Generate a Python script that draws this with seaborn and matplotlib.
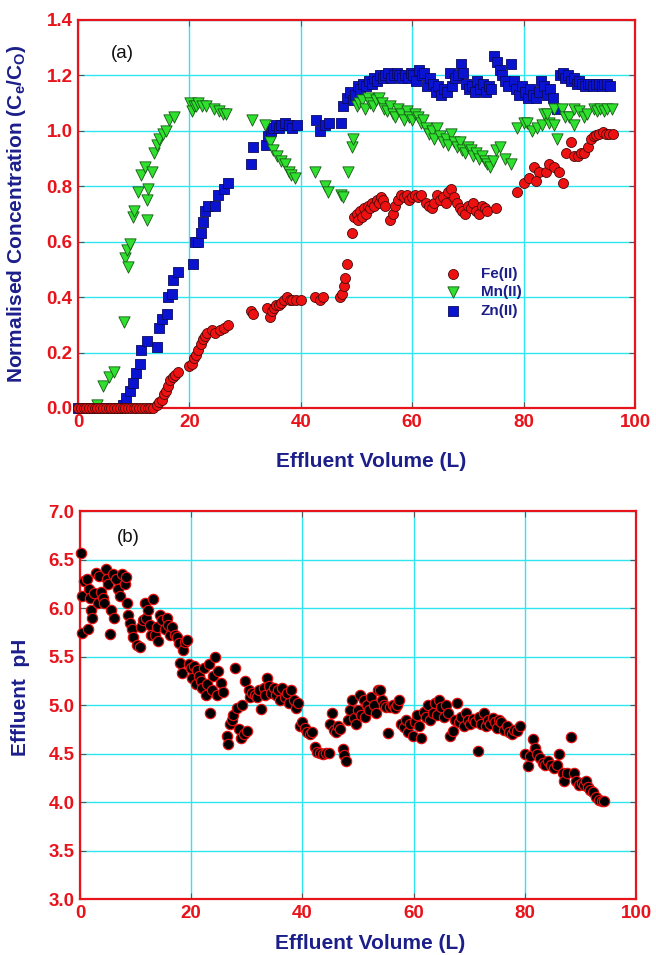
import numpy as np
import pandas as pd
import matplotlib
matplotlib.use("Agg")
import matplotlib.pyplot as plt
import seaborn as sns

# ---------------- data: panel (a) ----------------
fe_x = [0, 0.5, 1, 1.5, 2, 2.5, 3, 3.5, 4, 4.5, 5, 5.5, 6, 6.5, 7, 7.5, 8, 8.5, 9, 9.5, 10, 10.5, 11, 11.5, 12, 12.5, 13, 13.5,
        14.2, 14.6, 15, 15.4, 15.8, 16.2, 16.6, 17, 17.4, 18,
        20, 20.4, 20.8, 21.2, 21.6, 22, 22.4, 22.8, 23.2, 24, 24.6, 25.5, 26.2, 27,
        31, 31.5, 34, 34.4, 34.8, 35.2, 35.6, 36, 36.5, 37, 37.5, 38, 38.5, 39.2, 40,
        42.5, 43.5, 44, 47, 47.4, 47.8, 48, 48.3, 49.2, 49.5,
        50, 50.3, 50.7, 51, 51.3, 51.7, 52, 52.4, 52.8, 53.2, 53.6, 54, 54.4, 54.8, 55.2,
        56, 56.5, 57, 57.5, 58, 58.5, 59, 59.5, 60, 60.5, 61, 61.5,
        62.5, 63, 63.5, 64, 64.5, 65, 65.5, 66, 66.5, 67, 67.5,
        68, 68.5, 69, 69.5, 70, 70.5, 71, 71.5, 72, 72.5, 73, 73.5, 75,
        78.9, 80, 81, 81.9, 82.8, 82.2, 84, 84.6, 85.5, 86.4, 87,
        87.6, 88.5, 89.1, 89.7, 90.3, 90.9, 91.5, 92.1, 92.6, 93, 93.6, 94.2, 94.8, 95.4, 96]
fe_y = [0] * 28 + \
       [0.01, 0.02, 0.03, 0.05, 0.06, 0.08, 0.10, 0.11, 0.12, 0.13,
        0.15, 0.16, 0.18, 0.19, 0.21, 0.23, 0.25, 0.26, 0.27, 0.28, 0.27, 0.28, 0.29, 0.30,
        0.35, 0.34, 0.36, 0.33, 0.35, 0.36, 0.37, 0.37, 0.38, 0.39, 0.40, 0.39, 0.39, 0.39, 0.39,
        0.40, 0.39, 0.40, 0.40, 0.41, 0.44, 0.47, 0.52, 0.63, 0.69,
        0.70, 0.68, 0.71, 0.69, 0.72, 0.70, 0.73, 0.72, 0.74, 0.73, 0.75, 0.74, 0.76, 0.75, 0.73,
        0.68, 0.70, 0.73, 0.75, 0.77, 0.76, 0.77, 0.75, 0.76, 0.77, 0.76, 0.77,
        0.74, 0.73, 0.72, 0.74, 0.77, 0.75, 0.76, 0.74, 0.78, 0.79, 0.76,
        0.74, 0.72, 0.71, 0.70, 0.73, 0.72, 0.74, 0.71, 0.70, 0.73, 0.72, 0.71, 0.72,
        0.78, 0.81, 0.83, 0.87, 0.85, 0.82, 0.85, 0.88, 0.87, 0.85, 0.81,
        0.92, 0.96, 0.91, 0.91, 0.92, 0.92, 0.94, 0.97, 0.98, 0.985, 0.99, 0.995, 0.99, 0.99, 0.99]

mn_x = [3.5, 4.5, 5.5, 6.5, 8.2, 8.5, 8.8, 9.0, 9.3, 9.8, 10.1, 10.8, 11.4, 12.0, 12.3, 12.6, 12.4, 13.2, 13.6,
        14.1, 14.6, 15.2, 15.8, 16.4, 17.2,
        20.1, 20.4, 20.8, 21.2, 21.6, 22.2, 23.0, 24.5, 25.3, 26.0, 26.6,
        31.2, 33.5, 34.5, 35.0, 35.8, 36.5, 37.2, 37.8, 38.3, 39.0,
        42.5, 44.3, 44.9, 47.2, 47.5, 48.5, 49.2, 49.4,
        50.0, 50.5, 51.0, 51.5, 52.0, 52.5, 53.0, 53.5, 54.0, 54.5, 55.0, 55.5, 56.0, 56.5, 57.0, 57.5,
        58.0, 58.5, 59.0, 59.5, 60.0, 60.5, 61.0, 61.5, 62.0, 62.5, 63.0, 63.5, 64.0, 64.5, 65.0, 65.5,
        66.0, 66.5, 67.0, 67.5, 68.0, 68.5, 69.0, 69.5, 70.0, 70.5, 71.0, 71.5, 72.0, 72.5, 73.0, 73.5,
        74.0, 74.5, 75.0, 75.7, 76.6, 77.8,
        78.8, 80.0, 80.6, 81.5, 82.4, 83.3, 84.5, 85.4, 86.0,
        83.6, 84.2, 85.4, 86.9, 87.5, 88.1, 89.0, 89.0, 89.9, 90.8, 91.4, 92.6, 93.2, 93.8, 94.4, 95.0, 95.9]
mn_y = [0.01, 0.08, 0.11, 0.13, 0.31, 0.54, 0.57, 0.51, 0.59, 0.69, 0.71, 0.78, 0.84, 0.87, 0.75, 0.79, 0.68, 0.85, 0.92,
        0.95, 0.97, 0.99, 1.00, 1.04, 1.05,
        1.10, 1.07, 1.09, 1.09, 1.10, 1.09, 1.09, 1.08, 1.07, 1.06, 1.06,
        1.04, 1.02, 0.96, 0.93, 0.91, 0.89, 0.88, 0.85, 0.84, 0.83,
        0.85, 0.80, 0.78, 0.77, 0.76, 0.85, 0.94, 0.97,
        1.09, 1.10, 1.11, 1.08, 1.12, 1.10, 1.09, 1.11, 1.12, 1.10, 1.08, 1.07, 1.09, 1.06, 1.05, 1.08,
        1.06, 1.04, 1.07, 1.05, 1.04, 1.06, 1.05, 1.03, 1.04, 1.01, 0.99, 1.00, 0.97, 1.01, 0.98, 0.96,
        0.97, 0.95, 0.99, 0.96, 0.94, 0.96, 0.93, 0.92, 0.94, 0.93, 0.91, 0.92, 0.90, 0.91, 0.89, 0.88,
        0.87, 0.89, 0.93, 0.94, 0.90, 0.88,
        1.01, 1.03, 1.03, 1.00, 1.01, 1.02, 1.03, 1.02, 0.97,
        1.06, 1.06, 1.08, 1.08, 1.05, 1.05, 1.08, 1.02, 1.07, 1.05, 1.06, 1.08, 1.07, 1.08, 1.07, 1.08, 1.08]

zn_x = [0, 0.5, 1, 1.5, 2, 2.5, 3, 3.5, 4, 4.5, 5, 5.5, 6, 6.5, 7, 7.5,
        8.0, 8.7, 9.3, 9.9, 10.5, 11.1, 11.4, 12.3, 14.1, 14.6, 15.0, 15.9, 16.2, 16.8, 17.1, 18.0,
        20.6, 21.0, 21.6, 22.0, 22.4, 22.8, 23.4, 24.6, 25.2, 26.2, 27.0,
        31.0, 31.5, 33.8, 34.2, 34.6, 35.0, 35.5, 36.0, 36.5, 37.2, 37.8, 38.5, 39.3,
        42.7, 43.5, 44.3, 45.0,
        47.3, 47.6, 48.3, 48.8, 49.3, 49.8, 50.2, 50.7, 51.2, 51.7, 52.2, 52.7, 53.2, 53.7, 54.2, 54.7,
        55.2, 55.7, 56.2, 56.7, 57.2, 57.7, 58.2, 58.7, 59.2, 59.7, 60.2, 60.7, 61.2, 61.7, 62.2, 62.7,
        63.2, 63.7, 64.2, 64.7, 65.2, 65.7, 66.2, 66.7, 67.2, 67.7, 68.2, 68.7, 69.2, 69.7, 70.2, 70.7,
        71.2, 71.7, 72.2, 72.7, 73.2, 73.7, 74.2, 74.7, 75.2, 75.7, 76.2, 76.7, 77.2, 77.7, 78.2, 78.7,
        79.2, 79.7, 80.2, 80.7, 81.2, 81.7, 82.2, 82.7, 83.2, 83.6, 84.2, 84.7, 85.2, 86.0, 86.5, 87.0,
        87.5, 88.0, 88.5, 89.0, 89.5, 90.0, 90.5, 91.0, 91.5, 92.0, 92.5, 93.0, 93.5, 94.0, 94.5, 95.0, 95.5]
zn_y = [0] * 16 + \
       [0.01, 0.035, 0.06, 0.09, 0.126, 0.16, 0.21, 0.24, 0.22, 0.29, 0.32, 0.34, 0.40, 0.41, 0.46, 0.49,
        0.52, 0.60, 0.60, 0.63, 0.67, 0.71, 0.73, 0.73, 0.77, 0.79, 0.81,
        0.88, 0.94, 0.95, 0.98, 1.00, 1.01, 1.02, 1.01, 1.02, 1.03, 1.02, 1.01, 1.02,
        1.04, 1.00, 1.02, 1.03,
        1.03, 1.09, 1.12, 1.14, 1.11, 1.13, 1.16, 1.15, 1.17, 1.16, 1.18, 1.17, 1.19, 1.18, 1.20, 1.19,
        1.20, 1.21, 1.19, 1.20, 1.21, 1.20, 1.19, 1.20, 1.19, 1.21, 1.20, 1.18, 1.22, 1.20, 1.21, 1.16,
        1.19, 1.17, 1.14, 1.16, 1.13, 1.15, 1.14, 1.21, 1.16, 1.19, 1.20, 1.24, 1.21, 1.17, 1.15, 1.16,
        1.14, 1.18, 1.15, 1.17, 1.14, 1.16, 1.15, 1.27, 1.25, 1.22, 1.20, 1.18, 1.16, 1.24, 1.18, 1.15,
        1.13, 1.16, 1.14, 1.12, 1.15, 1.13, 1.12, 1.14, 1.18, 1.16, 1.13, 1.15, 1.12, 1.08, 1.20, 1.21,
        1.19, 1.20, 1.18, 1.19, 1.17, 1.18, 1.17, 1.16, 1.17, 1.17, 1.16, 1.17, 1.17, 1.16, 1.17, 1.17, 1.16]

# ---------------- data: panel (b) ----------------
ph_x = [0.2, 0.3, 0.4, 0.8, 1.2, 1.5, 1.6, 1.8, 2.0, 2.2, 2.5, 2.9, 3.2, 3.5, 3.8, 4.1, 4.4, 4.6, 4.8, 5.0,
        5.4, 5.6, 6.0, 6.1, 6.4, 6.8, 7.2, 7.6, 8.0, 8.3, 8.4, 8.7, 9.0, 9.3, 9.6, 10.2, 10.8, 11.0, 11.3, 11.6,
        11.9, 12.2, 12.5, 12.8, 13.1, 13.5, 13.9, 14.1, 14.4, 14.8, 15.2, 15.6, 15.9, 16.2, 16.6, 17.0, 17.4, 17.8, 18.0, 18.3,
        18.6, 18.9, 19.2, 19.6, 19.9, 20.2, 20.5, 20.8, 21.1, 21.4, 21.7, 22.0, 22.3, 22.6, 22.9, 23.2, 23.4, 23.7, 24.0, 24.3,
        24.6, 24.9, 25.3, 25.7, 26.4, 26.7, 26.9, 27.3, 27.6, 27.9, 28.2, 28.6, 28.9, 29.2, 29.4, 29.7, 30.0, 30.3, 30.6, 31.0,
        31.4, 31.8, 32.2, 32.6, 33.0, 33.3, 33.6, 34.0, 34.4, 34.8, 35.2, 35.6, 36.0, 36.4, 36.8, 37.2, 37.6, 38.0, 38.4, 38.8,
        39.2, 39.6, 40.0, 40.4, 40.8, 41.3, 41.8, 42.3, 42.7, 43.2, 43.7, 44.2, 44.7, 45.0, 45.3, 45.6, 46.0, 46.4, 46.8, 47.3,
        47.5, 47.8, 48.2, 48.6, 49.0, 49.3, 49.7, 50.0, 50.3, 50.6, 51.0, 51.3, 51.7, 52.0, 52.4, 52.8, 53.2, 53.6, 54.0, 54.3,
        54.7, 55.0, 55.4, 55.8, 56.2, 56.6, 57.0, 57.4, 57.8, 58.2, 58.6, 59.0, 59.4, 59.8, 60.2, 60.6, 61.0, 61.4, 61.8, 62.2,
        62.6, 63.0, 63.4, 63.8, 64.2, 64.6, 65.0, 65.4, 65.8, 66.2, 66.6, 67.0, 67.4, 67.8, 68.2, 68.6, 69.0, 69.4, 69.8, 70.2,
        70.6, 71.0, 71.5, 71.8, 72.2, 72.6, 73.0, 73.4, 73.8, 74.2, 74.6, 75.0, 75.4, 75.8, 76.3, 76.8, 77.2, 77.6, 78.0, 78.5,
        79.2, 80.0, 80.5, 80.9, 81.4, 81.8, 82.2, 82.7, 83.2, 83.7, 84.2, 84.7, 85.2, 85.7, 86.2, 86.8, 87.1, 87.6, 88.3, 88.8,
        89.2, 89.7, 90.2, 90.6, 91.0, 91.4, 91.8, 92.2, 92.8, 93.3, 93.8, 94.3]
ph_y = [6.57, 6.12, 5.74, 6.28, 6.30, 5.78, 6.20, 6.10, 5.98, 5.90, 6.15, 6.36, 6.05, 6.33, 6.17, 6.10, 6.05, 6.40, 6.30, 6.25,
        5.73, 5.98, 6.35, 5.90, 6.30, 6.20, 6.12, 6.35, 6.25, 6.32, 6.05, 5.93, 5.85, 5.78, 5.70, 5.62, 5.60, 5.80, 5.88, 6.05,
        5.90, 5.98, 5.82, 5.72, 6.09, 5.72, 5.80, 5.66, 5.93, 5.88, 5.78, 5.90, 5.83, 5.72, 5.80, 5.72, 5.70, 5.64, 5.43, 5.33,
        5.57, 5.65, 5.67, 5.42, 5.38, 5.28, 5.40, 5.22, 5.36, 5.30, 5.25, 5.18, 5.38, 5.10, 5.22, 5.42, 4.92, 5.15, 5.30, 5.50,
        5.10, 5.35, 5.23, 5.13, 4.68, 4.60, 4.80, 4.85, 4.90, 5.38, 4.97, 4.75, 4.66, 5.00, 4.70, 5.25, 4.73, 5.15, 5.08, 5.12,
        5.10, 5.08, 5.15, 4.96, 5.18, 5.10, 5.28, 5.20, 5.12, 5.18, 5.10, 5.15, 5.05, 5.18, 5.08, 5.12, 5.02, 5.16, 5.05, 4.97,
        5.02, 4.78, 4.82, 4.76, 4.72, 4.70, 4.72, 4.57, 4.52, 4.51, 4.50, 4.51, 4.51, 4.80, 4.92, 4.74, 4.72, 4.78, 4.75, 4.55,
        4.48, 4.42, 4.85, 4.95, 5.05, 4.87, 4.80, 4.95, 5.10, 4.90, 5.05, 4.88, 5.00, 4.95, 5.08, 5.00, 4.92, 5.15, 5.15, 5.05,
        5.00, 4.98, 4.71, 4.98, 5.00, 4.97, 5.00, 5.05, 4.80, 4.77, 4.85, 4.72, 4.80, 4.68, 4.82, 4.90, 4.78, 4.66, 4.93, 4.88,
        5.00, 4.85, 4.92, 5.02, 4.90, 5.05, 4.98, 4.88, 5.00, 4.92, 4.68, 4.73, 4.85, 5.02, 4.82, 4.88, 4.78, 4.92, 4.85, 4.80,
        4.86, 4.82, 4.53, 4.88, 4.80, 4.92, 4.78, 4.85, 4.80, 4.87, 4.83, 4.76, 4.85, 4.82, 4.74, 4.78, 4.72, 4.70, 4.74, 4.73,
        4.78, 4.50, 4.37, 4.47, 4.65, 4.56, 4.50, 4.45, 4.40, 4.38, 4.42, 4.38, 4.35, 4.38, 4.50, 4.30, 4.22, 4.30, 4.67, 4.30,
        4.22, 4.18, 4.20, 4.18, 4.22, 4.15, 4.12, 4.10, 4.05, 4.02, 4.01, 4.01]

x_ticks = [0, 20, 40, 60, 80, 100]
conc_ticks = [0.0, 0.2, 0.4, 0.6, 0.8, 1.0, 1.2, 1.4]
ph_ticks = [3.0, 3.5, 4.0, 4.5, 5.0, 5.5, 6.0, 6.5, 7.0]

# ---------------- style ----------------
sns.set_theme(style="white")
plt.rcParams['font.family'] = ['Liberation Sans', 'DejaVu Sans']

RED = '#e8141c'
NAVY = '#1c1f8a'
CYAN = '#2ee6f0'

fig = plt.figure(figsize=(6.56, 9.55), dpi=100)
ax1 = fig.add_axes([0.1189, 0.5728, 0.8491, 0.4063])
ax2 = fig.add_axes([0.1220, 0.0586, 0.8476, 0.4063])

df_fe = pd.DataFrame({'x': fe_x, 'y': fe_y})
df_mn = pd.DataFrame({'x': mn_x, 'y': mn_y})
df_zn = pd.DataFrame({'x': zn_x, 'y': zn_y})
df_ph = pd.DataFrame({'x': ph_x, 'y': ph_y})

sns.scatterplot(data=df_zn, x='x', y='y', ax=ax1, marker='s', s=44, color='#0a14d0',
                edgecolor='#0a0a60', linewidth=0.6, label='Zn(II)', zorder=3, clip_on=False)
sns.scatterplot(data=df_mn, x='x', y='y', ax=ax1, marker='v', s=66, color='#2fe02f',
                edgecolor='#145a14', linewidth=0.6, label='Mn(II)', zorder=4, clip_on=False)
sns.scatterplot(data=df_fe, x='x', y='y', ax=ax1, marker='o', s=52, color='#ee1111',
                edgecolor='#4a0a0a', linewidth=0.6, label='Fe(II)', zorder=5, clip_on=False)

sns.scatterplot(data=df_ph, x='x', y='y', ax=ax2, marker='o', s=55, color='black',
                edgecolor='#e01010', linewidth=0.9, zorder=4, clip_on=False, legend=False)

for ax, yt, ylim in [(ax1, conc_ticks, (0, 1.4)), (ax2, ph_ticks, (3.0, 7.0))]:
    ax.set_xlim(0, 100)
    ax.set_ylim(*ylim)
    ax.set_xticks(x_ticks)
    ax.set_yticks(yt)
    ax.set_xticklabels([str(t) for t in x_ticks])
    ax.set_yticklabels([f"{t:.1f}" for t in yt])
    ax.grid(True, color=CYAN, linewidth=1.0)
    ax.set_axisbelow(True)
    for sp in ax.spines.values():
        sp.set_color(RED)
        sp.set_linewidth(1.6)
        sp.set_visible(True)
    ax.tick_params(axis='both', which='both', direction='in', length=4, width=0.8,
                   color='#555555', top=True, right=True, bottom=True, left=True,
                   labelcolor=RED, labelsize=13.5, pad=4)
    for lab in ax.get_xticklabels() + ax.get_yticklabels():
        lab.set_fontweight('bold')
    ax.set_xlabel('Effluent Volume (L)', color=NAVY, fontsize=15, fontweight='bold')

ax1.set_ylabel('Normalised Concentration (C$_\\mathregular{e}$/C$_\\mathregular{O}$)',
               color=NAVY, fontsize=15, fontweight='bold')
ax2.set_ylabel('Effluent  pH', color=NAVY, fontsize=15, fontweight='bold')
ax1.xaxis.set_label_coords(0.526, -0.113)
ax1.yaxis.set_label_coords(-0.09, 0.5)
ax2.xaxis.set_label_coords(0.522, -0.09)
ax2.yaxis.set_label_coords(-0.09, 0.52)

ax1.text(8.0, 1.28, '(a)', fontsize=13.5, color='#111111', ha='center', va='center')
ax2.text(8.6, 6.73, '(b)', fontsize=13.5, color='#111111', ha='center', va='center')

handles, labels = ax1.get_legend_handles_labels()
order = [labels.index(k) for k in ['Fe(II)', 'Mn(II)', 'Zn(II)']]
leg = ax1.legend([handles[i] for i in order], [labels[i] for i in order],
                 loc='upper left', bbox_to_anchor=(0.635, 0.38), frameon=False,
                 handletextpad=0.8, labelspacing=0.3, borderaxespad=0,
                 prop={'weight': 'bold', 'size': 11})
for t in leg.get_texts():
    t.set_color(NAVY)

fig.savefig('out.png', dpi=100, facecolor='white')
